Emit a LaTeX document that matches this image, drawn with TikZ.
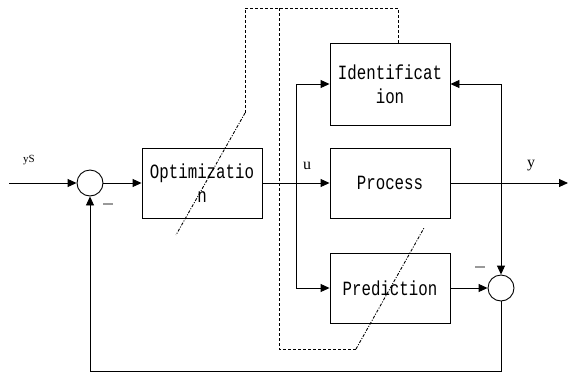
\documentclass[tikz,border=0pt]{standalone}
\usepackage{fontspec}
\setmainfont{Liberation Serif}
\setmonofont[FakeStretch=0.78]{Liberation Mono}
\usetikzlibrary{arrows.meta}

\begin{document}
\begin{tikzpicture}[x=1bp,y=-1bp,line width=0.9bp,
  blk/.style={draw,minimum width=120bp,inner sep=0pt,align=center,
    font=\ttfamily\fontsize{20.3}{24}\selectfont},
  sum/.style={draw,circle,minimum size=26bp,inner sep=0pt},
  sig/.style={-{Triangle[length=9bp,width=8bp]}},
  lbl/.style={font=\fontsize{16}{16}\selectfont},
  neg/.style={text=black!40,inner sep=0pt},
  path/.style={dash pattern=on 3bp off 2bp},
  adj/.style={dash pattern=on 3bp off 1.5bp on 1bp off 1.5bp}]

\useasboundingbox (0,0) rectangle (568,374);

% Blocks
\node[sum] (s1) at (90,183) {};
\node[blk,minimum height=70bp] (opt) at (202,183) {Optimizatio\\n};
\node[blk,minimum height=82bp] (ident) at (390,84) {Identificat\\ion};
\node[blk,minimum height=70bp] (proc) at (390,183) {Process};
\node[blk,minimum height=70bp] (pred) at (390,288) {Prediction};
\node[sum] (s2) at (501,288) {};

% Branch points
\coordinate (in) at (9,183);
\coordinate (out) at (568,183);
\coordinate (ju) at (296,183);
\coordinate (jy) at (501,183);
\coordinate (fb) at (501,371);

% Signals
\draw[sig] (in) -- (s1);
\draw[sig] (s1) -- (opt);
\draw[sig] (opt) -- (proc);
\draw[sig] (ju) |- (ident);
\draw[sig] (ju) |- (pred);
\draw[sig] (proc) -- (out);
\draw[sig] (jy) |- (ident);
\draw[sig] (jy) -- (s2);
\draw[sig] (pred) -- (s2);
\draw[sig] (s2) -- (fb) -| (s1);

% Labels
\node[font=\fontsize{11}{11}\selectfont] (ys) at (29,160) {yS};
\node[lbl] (u) at (307,166) {u};
\node[lbl] (y) at (531,166) {y};
\node[neg] (m1) at (108,204) {\rule{10bp}{1.1bp}};
\node[neg] (m2) at (480,267) {\rule{10bp}{1.1bp}};

% Adaptation paths
\coordinate (tp) at (398,8);
\draw[path] (tp |- ident.north) -- (tp) -- (245,8) -- (245,113);
\draw[adj] (245,113) -- (176,235);
\draw[path] (279,8) -- (279,349) -- (356,349);
\draw[adj] (356,349) -- (424,228);

\end{tikzpicture}
\end{document}
